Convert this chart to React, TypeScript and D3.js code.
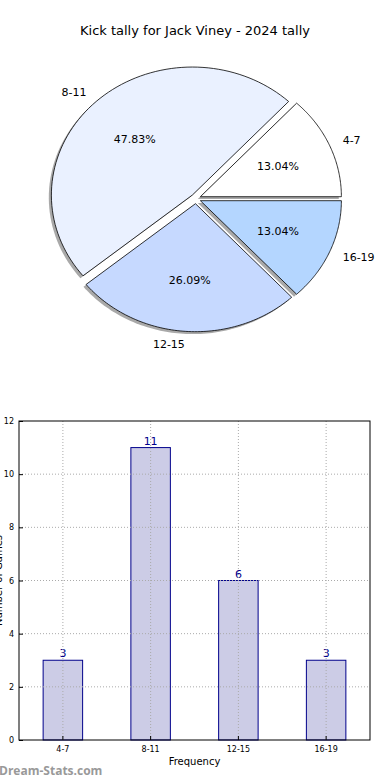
import { useEffect, useRef } from 'react';
import * as d3 from 'd3';

const chartTitle = 'Kick tally for Jack Viney - 2024 tally';
const categories = ['4-7', '8-11', '12-15', '16-19'];
const counts = [3, 11, 6, 3];
const sliceColors = ['#ffffff', '#eaf1ff', '#c6d9ff', '#b4d6ff'];
const yTicks = [0, 2, 4, 6, 8, 10, 12];

const W = 390;
const H = 780;

const App = () => {
  const ref = useRef<SVGSVGElement>(null);

  useEffect(() => {
    const svg = d3.select(ref.current);
    svg.selectAll('*').remove();
    const font = 'DejaVu Sans, sans-serif';

    // title
    svg
      .append('text')
      .attr('x', 195)
      .attr('y', 35)
      .attr('text-anchor', 'middle')
      .style('font', `13px ${font}`)
      .text(chartTitle);

    // ---- pie (matplotlib style: starts east, counter-clockwise, elliptical) ----
    const cx = 195.8;
    const cy = 198.7;
    const rx = 141;
    const ry = 128;
    const explode = 5;
    const total = d3.sum(counts);

    const pie = d3
      .pie<number>()
      .sort(null)
      .startAngle(0)
      .endAngle(2 * Math.PI)(counts);

    // d3 angles used here as math angles (ccw from east)
    const slices = pie.map((p, i) => {
      const a0 = p.startAngle;
      const a1 = p.endAngle;
      const mid = (a0 + a1) / 2;
      const ox = cx + explode * Math.cos(mid);
      const oy = cy - explode * Math.sin(mid);
      const steps = 80;
      const pts: [number, number][] = [[ox, oy]];
      for (let k = 0; k <= steps; k++) {
        const t = a0 + ((a1 - a0) * k) / steps;
        pts.push([ox + rx * Math.cos(t), oy - ry * Math.sin(t)]);
      }
      return { i, mid, ox, oy, pts, value: p.data };
    });

    const line = d3.line().curve(d3.curveLinearClosed);
    const pieG = svg.append('g');

    slices.forEach((s) => {
      pieG
        .append('path')
        .attr('d', line(s.pts))
        .attr('transform', 'translate(-2.6,2.4)')
        .attr('fill', '#8c8c8c')
        .attr('opacity', 0.75);
    });
    slices.forEach((s) => {
      pieG
        .append('path')
        .attr('d', line(s.pts))
        .attr('fill', sliceColors[s.i])
        .attr('stroke', '#000')
        .attr('stroke-width', 0.8)
        .attr('stroke-linejoin', 'round');
    });

    slices.forEach((s) => {
      const lx = s.ox + 1.1 * rx * Math.cos(s.mid);
      const ly = s.oy - 1.1 * ry * Math.sin(s.mid);
      pieG
        .append('text')
        .attr('x', lx)
        .attr('y', ly)
        .attr('dy', '0.35em')
        .attr('text-anchor', Math.cos(s.mid) >= 0 ? 'start' : 'end')
        .style('font', `11px ${font}`)
        .text(categories[s.i]);
      const px = s.ox + 0.6 * rx * Math.cos(s.mid);
      const py = s.oy - 0.6 * ry * Math.sin(s.mid);
      pieG
        .append('text')
        .attr('x', px)
        .attr('y', py)
        .attr('dy', '0.35em')
        .attr('text-anchor', 'middle')
        .style('font', `11px ${font}`)
        .text(((s.value / total) * 100).toFixed(2) + '%');
    });

    // ---- bar chart ----
    const left = 19;
    const right = 370;
    const top = 421;
    const bottom = 740;

    const x = d3
      .scaleBand()
      .domain(categories)
      .range([left, right])
      .paddingInner(0.55)
      .paddingOuter(0.275);
    const y = d3.scaleLinear().domain([0, 12]).range([bottom, top]);

    const barG = svg.append('g');
    barG
      .selectAll('rect.bar')
      .data(counts)
      .enter()
      .append('rect')
      .attr('class', 'bar')
      .attr('x', (_d, i) => x(categories[i])!)
      .attr('y', (d) => y(d))
      .attr('width', x.bandwidth())
      .attr('height', (d) => bottom - y(d))
      .attr('fill', '#cccce6')
      .attr('stroke', '#00008b')
      .attr('stroke-width', 1);

    // dotted grid
    const gridG = svg.append('g').attr('stroke', '#aaa').attr('stroke-dasharray', '1,2');
    yTicks.slice(1, -1).forEach((t) => {
      gridG.append('line').attr('x1', left).attr('x2', right).attr('y1', y(t)).attr('y2', y(t));
    });
    categories.forEach((c) => {
      const gx = x(c)! + x.bandwidth() / 2;
      gridG.append('line').attr('x1', gx).attr('x2', gx).attr('y1', top).attr('y2', bottom);
    });

    // value labels
    barG
      .selectAll('text.val')
      .data(counts)
      .enter()
      .append('text')
      .attr('class', 'val')
      .attr('x', (_d, i) => x(categories[i])! + x.bandwidth() / 2)
      .attr('y', (d) => y(d) - 3)
      .attr('text-anchor', 'middle')
      .attr('fill', '#00008b')
      .style('font', `11px ${font}`)
      .text((d) => d);

    // frame
    svg
      .append('rect')
      .attr('x', left)
      .attr('y', top)
      .attr('width', right - left)
      .attr('height', bottom - top)
      .attr('fill', 'none')
      .attr('stroke', '#000')
      .attr('stroke-width', 1);

    // y axis
    const yAxis = d3.axisLeft(y).tickValues(yTicks).tickSize(-4).tickPadding(5);
    const yg = svg.append('g').attr('transform', `translate(${left},0)`).call(yAxis);
    yg.select('.domain').remove();
    yg.selectAll('text').style('font', `8px ${font}`).attr('fill', '#000');

    // x axis
    const xAxis = d3.axisBottom(x).tickSize(-4).tickPadding(6);
    const xg = svg.append('g').attr('transform', `translate(0,${bottom})`).call(xAxis);
    xg.select('.domain').remove();
    xg.selectAll('text').style('font', `8px ${font}`).attr('fill', '#000');

    svg
      .append('text')
      .attr('x', 194.5)
      .attr('y', 765)
      .attr('text-anchor', 'middle')
      .style('font', `10px ${font}`)
      .text('Frequency');

    // y label sits mostly off the left edge, as in the source image
    svg
      .append('text')
      .attr('transform', `translate(1.5,${(top + bottom) / 2}) rotate(-90)`)
      .attr('text-anchor', 'middle')
      .style('font', `10px ${font}`)
      .text('Number of Games');

    svg
      .append('text')
      .attr('x', -1)
      .attr('y', 775)
      .attr('fill', '#999')
      .style('font', `bold 12px 'Open Sans', sans-serif`)
      .text('Dream-Stats.com');
  }, []);

  return (
    <div style={{ position: 'absolute', left: 0, top: 0 }}>
      <svg ref={ref} width={W} height={H} style={{ display: 'block', background: '#fff' }} />
    </div>
  );
};

export default App;
